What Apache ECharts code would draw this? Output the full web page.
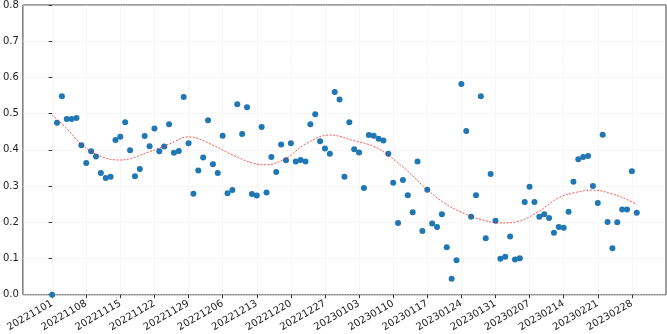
<!DOCTYPE html>
<html>
<head>
<meta charset="utf-8">
<script src="https://cdn.jsdelivr.net/npm/echarts@6/dist/echarts.min.js"></script>
<style>
  html, body { margin: 0; padding: 0; background: #fff; }
  #chart { width: 667px; height: 334px; }
</style>
</head>
<body>
<div id="chart"></div>
<script>
// x positions are day offsets from 20221101
const tickDays = [0, 7, 14, 21, 28, 35, 42, 49, 56, 63, 70, 77, 84, 91, 98, 105, 112, 119];
const tickLabels = ["20221101", "20221108", "20221115", "20221122", "20221129", "20221206",
  "20221213", "20221220", "20221227", "20230103", "20230110", "20230117", "20230124",
  "20230131", "20230207", "20230214", "20230221", "20230228"];
const yTicks = [0, 0.1, 0.2, 0.3, 0.4, 0.5, 0.6, 0.7, 0.8];

// daily observations, day 0 .. day 120
const dailyValues = [
  0.000, 0.475, 0.548, 0.485, 0.485, 0.488, 0.413, 0.364, 0.396, 0.382,
  0.336, 0.322, 0.326, 0.427, 0.436, 0.476, 0.399, 0.327, 0.347, 0.438,
  0.410, 0.459, 0.396, 0.409, 0.471, 0.392, 0.397, 0.546, 0.418, 0.279,
  0.343, 0.379, 0.482, 0.360, 0.336, 0.439, 0.280, 0.289, 0.526, 0.444,
  0.518, 0.278, 0.274, 0.463, 0.282, 0.380, 0.339, 0.415, 0.371, 0.418,
  0.368, 0.372, 0.368, 0.471, 0.498, 0.424, 0.404, 0.389, 0.560, 0.539,
  0.326, 0.476, 0.402, 0.393, 0.295, 0.441, 0.439, 0.431, 0.426, 0.389,
  0.309, 0.198, 0.317, 0.275, 0.228, 0.368, 0.176, 0.290, 0.197, 0.187,
  0.222, 0.131, 0.044, 0.095, 0.582, 0.452, 0.215, 0.275, 0.548, 0.156,
  0.333, 0.204, 0.099, 0.105, 0.161, 0.097, 0.101, 0.256, 0.298, 0.256,
  0.215, 0.222, 0.212, 0.171, 0.187, 0.185, 0.229, 0.312, 0.374, 0.380,
  0.383, 0.300, 0.253, 0.442, 0.201, 0.128, 0.200, 0.235, 0.235, 0.341,
  0.226
];

// fitted trend curve
const fitDays = [0, 3, 6, 10, 14, 20, 24, 28, 33, 37, 42, 44, 48, 52, 57, 62, 66, 69, 73, 77, 81, 85, 88, 92, 96, 100, 104, 107, 111, 115, 118, 120];
const fitValues = [0.496, 0.459, 0.415, 0.382, 0.372, 0.395, 0.416, 0.436, 0.413, 0.386, 0.361, 0.359, 0.377, 0.416, 0.441, 0.425, 0.410, 0.385, 0.341, 0.290, 0.249, 0.222, 0.208, 0.198, 0.204, 0.231, 0.268, 0.281, 0.289, 0.278, 0.263, 0.249];

const chart = echarts.init(document.getElementById("chart"), null, { renderer: "canvas" });
const font = "DejaVu Sans";

chart.setOption({
  animation: false,
  grid: { left: 21, right: 1, top: 5, bottom: 36, show: true, borderColor: "#3a3a3a", borderWidth: 1 },
  xAxis: {
    type: "value",
    min: -6,
    max: 126,
    axisLine: { show: false },
    axisTick: { show: true, inside: false, length: 3.5, customValues: tickDays, lineStyle: { color: "#333" } },
    axisLabel: {
      customValues: tickDays,
      rotate: 30,
      margin: 8,
      fontFamily: font,
      fontSize: 10,
      color: "#222",
      formatter: v => tickLabels[tickDays.indexOf(v)] || ""
    },
    splitLine: { show: true, lineStyle: { color: "#e8e8e8", type: "dotted", width: 0.8 } }
  },
  yAxis: {
    type: "value",
    min: 0,
    max: 0.8,
    interval: 0.1,
    axisLine: { show: false },
    axisTick: { show: true, length: 3.5, lineStyle: { color: "#333" } },
    axisLabel: {
      margin: 4,
      fontFamily: font,
      fontSize: 10,
      color: "#222",
      formatter: v => yTicks.includes(+v.toFixed(1)) ? v.toFixed(1) : ""
    },
    splitLine: { show: true, lineStyle: { color: "#e8e8e8", type: "dotted", width: 0.8 } }
  },
  series: [
    {
      type: "scatter",
      data: dailyValues.map((v, i) => [i, v]),
      symbolSize: 6,
      itemStyle: { color: "#1f77b4", opacity: 1 },
      z: 3
    },
    {
      type: "line",
      data: fitDays.map((d, i) => [d, fitValues[i]]),
      smooth: 0.4,
      showSymbol: false,
      lineStyle: { color: "#ff0000", width: 0.8, type: [2, 1.5], opacity: 0.85 },
      z: 4
    }
  ]
});
</script>
</body>
</html>
